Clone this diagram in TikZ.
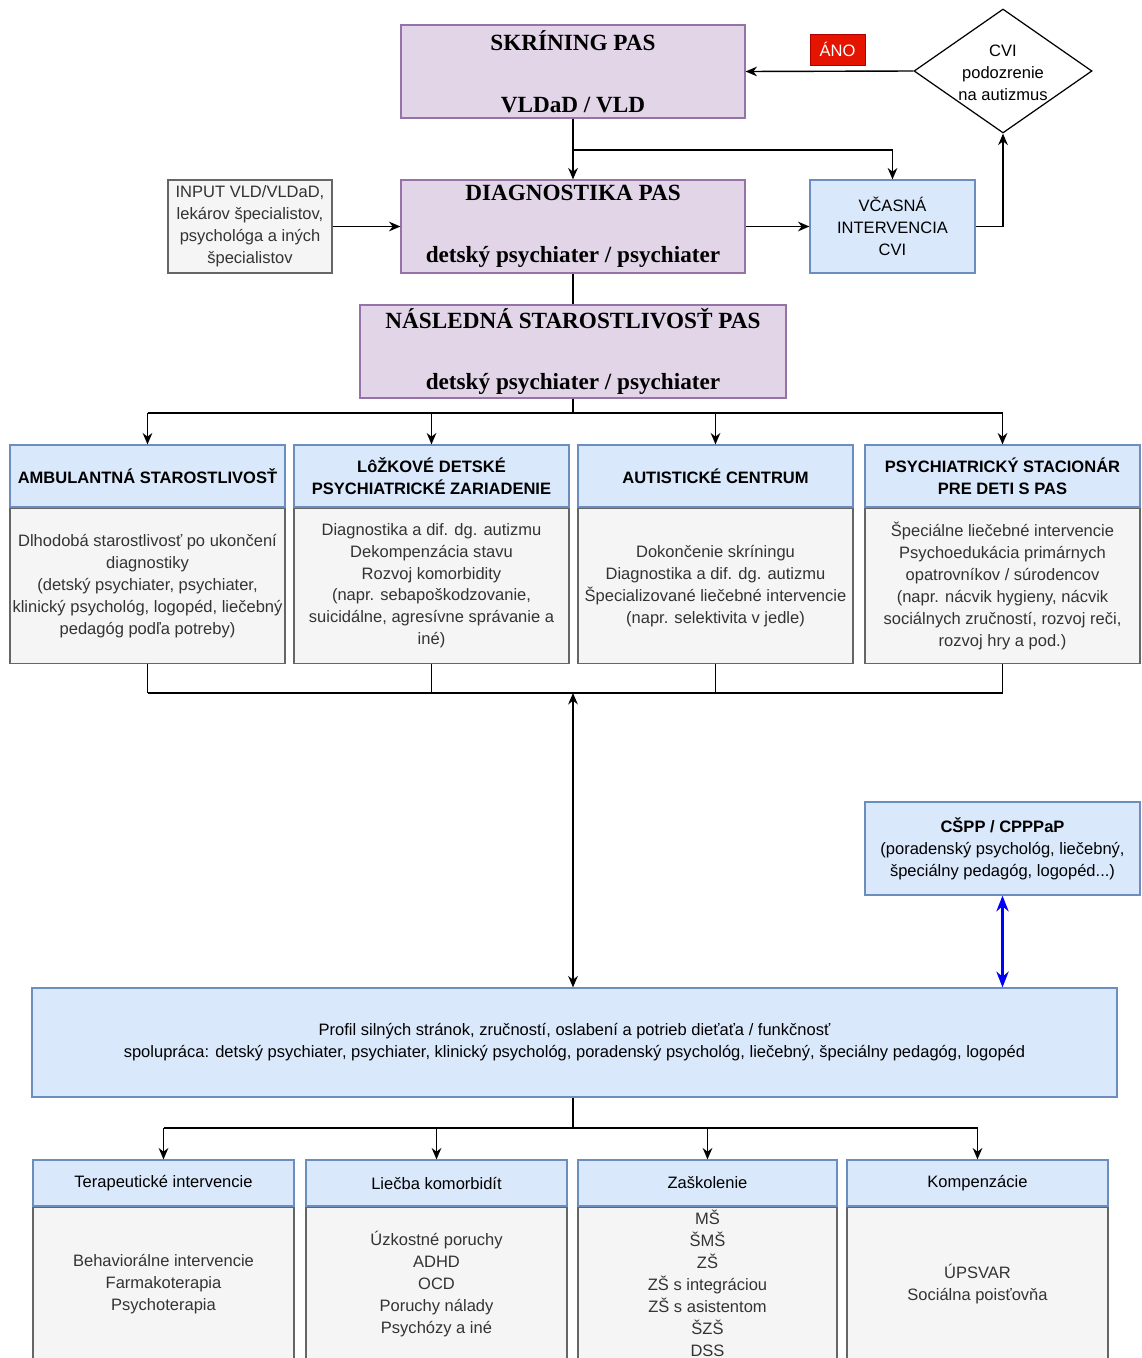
\documentclass[tikz,border=0pt]{standalone}
\usepackage{fontspec}
\setmainfont{Liberation Sans}
\newfontfamily\titlefont{Liberation Serif}
\usepackage{tikz}
\usetikzlibrary{arrows.meta, positioning, shapes.geometric, calc}

\definecolor{purplefill}{HTML}{E1D5E7}
\definecolor{purpleline}{HTML}{9673A6}
\definecolor{bluefill}{HTML}{DAE8FC}
\definecolor{blueline}{HTML}{6C8EBF}
\definecolor{grayfill}{HTML}{F5F5F5}
\definecolor{grayline}{HTML}{666666}
\definecolor{textgray}{HTML}{333333}
\definecolor{redfill}{HTML}{E51400}
\definecolor{redline}{HTML}{B20000}

\begin{document}
\begin{tikzpicture}[>={Stealth[length=6.5pt, width=5.5pt]},
      every node/.style={font=\fontsize{9.4}{12.5}\selectfont, align=center},
      stage/.style={rectangle, draw=purpleline, fill=purplefill, line width=0.7pt, inner sep=1pt, minimum width=6.88cm, minimum height=1.86cm, font=\titlefont\bfseries\fontsize{13.2}{17.6}\selectfont},
      input/.style={rectangle, draw=grayline, fill=grayfill, text=textgray, line width=0.6pt, inner sep=1pt, minimum width=3.28cm, minimum height=1.86cm},
      care/.style={rectangle, draw=blueline, fill=bluefill, line width=0.7pt, inner sep=1pt, minimum width=3.3cm, minimum height=1.86cm},
      decision/.style={diamond, draw, line width=0.7pt, inner sep=0pt, minimum width=3.56cm, minimum height=2.48cm},
      answer/.style={rectangle, draw=redline, fill=redfill, text=white, inner sep=1pt, minimum width=1.1cm, minimum height=0.62cm},
      head/.style={rectangle, draw=blueline, fill=bluefill, line width=0.7pt, inner sep=1pt, minimum width=5.5cm, minimum height=1.24cm, font=\bfseries\fontsize{9.4}{12.5}\selectfont},
      body/.style={rectangle, draw=grayline, fill=grayfill, text=textgray, line width=0.7pt, inner sep=1pt, minimum width=5.5cm, minimum height=3.1cm},
      subhead/.style={rectangle, draw=blueline, fill=bluefill, line width=0.7pt, inner sep=1pt, minimum width=5.22cm, minimum height=0.92cm},
      subbody/.style={rectangle, draw=grayline, fill=grayfill, text=textgray, line width=0.7pt, inner sep=1pt, minimum width=5.22cm, minimum height=3.06cm}]

      \useasboundingbox (0,0) rectangle (22.84,-27.16);

      \node[stage] (skr) at (11.46,-1.43) {SKRÍNING PAS\\[17.6pt]VLDaD / VLD};
      \node[answer] (ano) at (16.75,-0.99) {ÁNO};
      \node[decision] (cvi) at (20.06,-1.42) {};
      \node (cvitext) at (20.06,-1.46) {CVI\\podozrenie\\na autizmus};
      \node[input] (input) at (5.0,-4.53) {INPUT VLD/VLDaD,\\lekárov špecialistov,\\psychológa a iných\\špecialistov};
      \node[stage] (diag) at (11.46,-4.53) {DIAGNOSTIKA PAS\\[17.6pt]detský psychiater / psychiater};
      \node[care] (vcas) at (17.85,-4.53) {VČASNÁ\\INTERVENCIA\\CVI};
      \node[stage, minimum width=8.52cm] (nasl) at (11.46,-7.03) {NÁSLEDNÁ STAROSTLIVOSŤ PAS\\[17.6pt]detský psychiater / psychiater};

      % Care settings
      \node[head] (amb) at (2.95,-9.52) {AMBULANTNÁ STAROSTLIVOSŤ};
      \node[body, below=0pt of amb] (ambtxt) {Dlhodobá starostlivosť po ukončení\\diagnostiky\\(detský psychiater, psychiater,\\klinický psychológ, logopéd, liečebný\\pedagóg podľa potreby)};
      \node[head] (lozk) at (8.63,-9.52) {LôŽKOVÉ DETSKÉ\\PSYCHIATRICKÉ ZARIADENIE};
      \node[body, below=0pt of lozk] (lozktxt) {Diagnostika a dif. dg. autizmu\\Dekompenzácia stavu\\Rozvoj komorbidity\\(napr. sebapoškodzovanie,\\suicidálne, agresívne správanie a\\iné)};
      \node[head] (aut) at (14.31,-9.52) {AUTISTICKÉ CENTRUM};
      \node[body, below=0pt of aut] (auttxt) {Dokončenie skríningu\\Diagnostika a dif. dg. autizmu\\Špecializované liečebné intervencie\\(napr. selektivita v jedle)};
      \node[head] (stac) at (20.05,-9.52) {PSYCHIATRICKÝ STACIONÁR\\PRE DETI S PAS};
      \node[body, below=0pt of stac] (stactxt) {Špeciálne liečebné intervencie\\Psychoedukácia primárnych\\opatrovníkov / súrodencov\\(napr. nácvik hygieny, nácvik\\sociálnych zručností, rozvoj reči,\\rozvoj hry a pod.)};

      \node[care, minimum width=5.5cm] (cspp) at (20.05,-16.97) {\textbf{CŠPP / CPPPaP}\\(poradenský psychológ, liečebný,\\špeciálny pedagóg, logopéd...)};
      \node[care, minimum width=21.7cm, minimum height=2.18cm] (profil) at (11.49,-20.85) {Profil silných stránok, zručností, oslabení a potrieb dieťaťa / funkčnosť\\spolupráca: detský psychiater, psychiater, klinický psychológ, poradenský psychológ, liečebný, špeciálny pedagóg, logopéd};

      % Outcomes
      \node[subhead] (ter) at (3.27,-23.66) {Terapeutické intervencie};
      \node[subbody, below=0pt of ter] (tertxt) {Behaviorálne intervencie\\Farmakoterapia\\Psychoterapia};
      \node[subhead] (lie) at (8.73,-23.66) {Liečba komorbidít};
      \node[subbody, below=0pt of lie] (lietxt) {Úzkostné poruchy\\ADHD\\OCD\\Poruchy nálady\\Psychózy a iné};
      \node[subhead, minimum width=5.18cm] (zas) at (14.15,-23.66) {Zaškolenie};
      \node[subbody, minimum width=5.18cm, below=0pt of zas] (zastxt) {MŠ\\ŠMŠ\\ZŠ\\ZŠ s integráciou\\ZŠ s asistentom\\ŠZŠ\\DSS};
      \node[subhead] (kom) at (19.55,-23.66) {Kompenzácie};
      \node[subbody, below=0pt of kom] (komtxt) {ÚPSVAR\\Sociálna poisťovňa};

      % Arrows
      \coordinate (split) at (11.46,-3.0);
      \draw[->, thick] (cvi.west) -- (skr.east);
      \draw[->, thick] (skr.south) -- (diag.north);
      \draw[->, thick] (split) -- (split -| vcas.north) -- (vcas.north);
      \draw[->, thick] (input.east) -- (diag.west);
      \draw[->, thick] (diag.east) -- (vcas.west);
      \draw[->, thick] (vcas.east) -| (cvi.south);
      \draw[thick] (diag.south) -- (nasl.north);

      % Distribution to care settings
      \coordinate (busA) at (11.46,-8.26);
      \draw[thick] (nasl.south) -- (busA);
      \draw[thick] (busA -| amb.north) -- (busA -| stac.north);
      \foreach \n in {amb, lozk, aut, stac} {
        \draw[->, thick] (busA -| \n.north) -- (\n.north);
      }

      \coordinate (busB) at (11.46,-13.86);
      \draw[thick] (busB -| ambtxt.south) -- (busB -| stactxt.south);
      \foreach \n in {ambtxt, lozktxt, auttxt, stactxt} {
        \draw[thick] (\n.south) -- (busB -| \n.south);
      }
      \draw[<->, thick] (busB) -- (busB |- profil.north);
      \draw[{Stealth[length=9pt, width=7pt]}-{Stealth[length=9pt, width=7pt]}, blue, line width=1.4pt] (cspp.south) -- (cspp.south |- profil.north);

      % Profile to outcomes
      \coordinate (busC) at (11.46,-22.56);
      \draw[thick] (busC |- profil.south) -- (busC);
      \draw[thick] (busC -| ter.north) -- (busC -| kom.north);
      \foreach \n in {ter, lie, zas, kom} {
        \draw[->, thick] (busC -| \n.north) -- (\n.north);
      }
    \end{tikzpicture}
\end{document}
